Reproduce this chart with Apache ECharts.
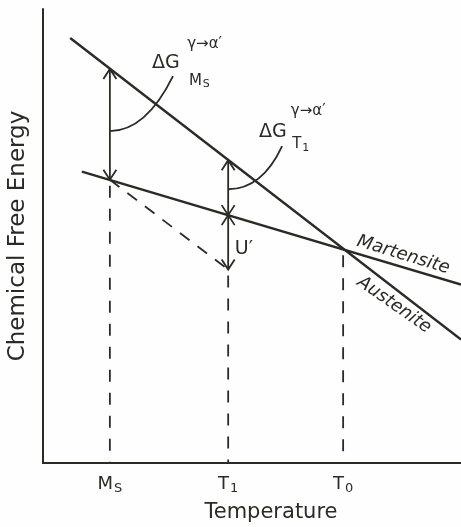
<!DOCTYPE html>
<html><head><meta charset="utf-8">
<script src="https://cdn.jsdelivr.net/npm/echarts@6/dist/echarts.min.js"></script>
<style>html,body{margin:0;padding:0;background:#fff}#c{width:461px;height:527px}</style>
</head><body><div id="c"></div>
<script>
// ---- data (arbitrary schematic units: temperature 0..100, free energy 0..100) ----
const tempTicks = [16.0, 44.3, 71.8];
const tempTickLabels = ['{m|M}{s|S}', '{m|T}{s|1}', '{m|T}{s|0}'];
const austenite = [[6.5, 93.6], [100, 27.2]];
const martensite = [[9.3, 64.2], [100, 39.3]];
const dashedPath = [[16.0, 62.4], [44.3, 42.6]];
const dropLines = [[16.0, 62.4], [44.3, 42.6], [71.8, 47.1]];          // [T, top G]
const arrows = [[16.0, 86.8, 62.4], [44.3, 66.7, 54.6], [44.3, 54.6, 42.6]]; // [T, G1, G2]
const leaders = [[16.0, 73.1, 24.6, 73.1, 31.1, 85.2], [44.3, 60.3, 52.4, 60.3, 57.2, 69.8]];
const labelTexts = ['ΔG', 'γ→α′', '{a|M}{b|S}', 'ΔG', 'γ→α′', '{a|T}{b|1}', 'U′', 'Martensite', 'Austenite'];
const labelAnchors = [[26.1, 88.0], [34.5, 92.2], [34.9, 84.2], [51.7, 72.9], [59.3, 77.4], [59.6, 70.2], [45.9, 47.2], [86.2, 45.8], [84.0, 34.8]];

// ---- styles ----
const INK = '#2b2b25';
const FONT = 'DejaVu Sans';
const labelStyles = ['big', 'sup', 'sub', 'big', 'sup', 'sub', 'big', 'mart', 'aust'];
const styleMap = {
  big: {fontSize: 19, position: 'right'},
  sup: {fontSize: 15, position: 'right'},
  sub: {fontSize: 15, position: 'right', rich: {a: {fontSize: 15, fontFamily: FONT, color: INK}, b: {fontSize: 11, fontFamily: FONT, color: INK, padding: [7, 0, 0, 1]}}},
  mart: {fontSize: 18, position: 'inside', rotate: -17, fontStyle: 'italic'},
  aust: {fontSize: 18, position: 'inside', rotate: -35, fontStyle: 'italic'}
};

function head(tip, dir) { // dir: unit vector pointing outward
  const L = 10, W = 6.5;
  const bx = tip[0] - dir[0] * L, by = tip[1] - dir[1] * L;
  const nx = -dir[1], ny = dir[0];
  return {type: 'polyline', shape: {points: [[bx + nx * W, by + ny * W], tip, [bx - nx * W, by - ny * W]]},
    style: {stroke: INK, lineWidth: 1.8, fill: null}};
}

const chart = echarts.init(document.getElementById('c'), null, {renderer: 'canvas'});
chart.setOption({
  backgroundColor: '#fefefe',
  animation: false,
  grid: {left: 43, right: 0, top: 9, bottom: 64, containLabel: false, outerBoundsMode: 'none'},
  xAxis: {
    type: 'value', min: 0, max: 100,
    axisLine: {show: true, lineStyle: {color: INK, width: 2}},
    axisTick: {show: false}, splitLine: {show: false},
    axisLabel: {
      customValues: tempTicks, margin: 10,
      formatter: v => tempTickLabels[tempTicks.indexOf(v)],
      rich: {m: {fontSize: 18, fontFamily: FONT, color: INK}, s: {fontSize: 13, fontFamily: FONT, color: INK, padding: [9, 0, 0, 1]}}
    },
    name: 'Temperature', nameLocation: 'middle', nameGap: 39,
    nameTextStyle: {fontSize: 21, fontFamily: FONT, color: INK, padding: [0, 0, 0, 38]}
  },
  yAxis: {
    type: 'value', min: 0, max: 100,
    axisLine: {show: true, lineStyle: {color: INK, width: 2}},
    axisTick: {show: false}, splitLine: {show: false}, axisLabel: {show: false},
    name: 'Chemical Free Energy', nameLocation: 'middle', nameGap: 13,
    nameTextStyle: {fontSize: 23, fontFamily: FONT, color: INK}
  },
  series: [
    {type: 'line', data: austenite, symbol: 'none', lineStyle: {color: INK, width: 2.4}},
    {type: 'line', data: martensite, symbol: 'none', lineStyle: {color: INK, width: 2.4}},
    {type: 'line', data: dashedPath, symbol: 'none', lineStyle: {color: INK, width: 1.8, type: [12, 10]}},
    {type: 'custom', data: dropLines, encode: {x: 0, y: 1},
      renderItem: (p, api) => {
        const a = api.coord([api.value(0), api.value(1)]);
        const b = api.coord([api.value(0), 0]);
        return {type: 'line', shape: {x1: a[0], y1: a[1] + 6, x2: b[0], y2: b[1]},
          style: {stroke: INK, lineWidth: 1.8, lineDash: [12, 11]}};
      }},
    {type: 'custom', data: arrows, encode: {x: 0, y: [1, 2]},
      renderItem: (p, api) => {
        const a = api.coord([api.value(0), api.value(1)]);
        const b = api.coord([api.value(0), api.value(2)]);
        const len = Math.hypot(b[0] - a[0], b[1] - a[1]);
        const d = [(a[0] - b[0]) / len, (a[1] - b[1]) / len];
        return {type: 'group', children: [
          {type: 'line', shape: {x1: a[0], y1: a[1], x2: b[0], y2: b[1]}, style: {stroke: INK, lineWidth: 1.8}},
          head(a, d), head(b, [-d[0], -d[1]])
        ]};
      }},
    {type: 'custom', data: leaders, encode: {x: [0, 2, 4], y: [1, 3, 5]},
      renderItem: (p, api) => {
        const s = api.coord([api.value(0), api.value(1)]);
        const c = api.coord([api.value(2), api.value(3)]);
        const e = api.coord([api.value(4), api.value(5)]);
        return {type: 'bezierCurve', shape: {x1: s[0], y1: s[1], cpx1: c[0], cpy1: c[1], x2: e[0], y2: e[1]},
          style: {stroke: INK, lineWidth: 1.8, fill: null}};
      }},
    {type: 'scatter', symbolSize: 0, silent: true, itemStyle: {opacity: 1},
      data: labelAnchors.map((pt, i) => {
        const st = styleMap[labelStyles[i]];
        return {value: pt, label: Object.assign({show: true, formatter: labelTexts[i], distance: 0,
          fontFamily: FONT, color: INK, opacity: 1}, st)};
      })}
  ]
});
</script>
</body></html>
